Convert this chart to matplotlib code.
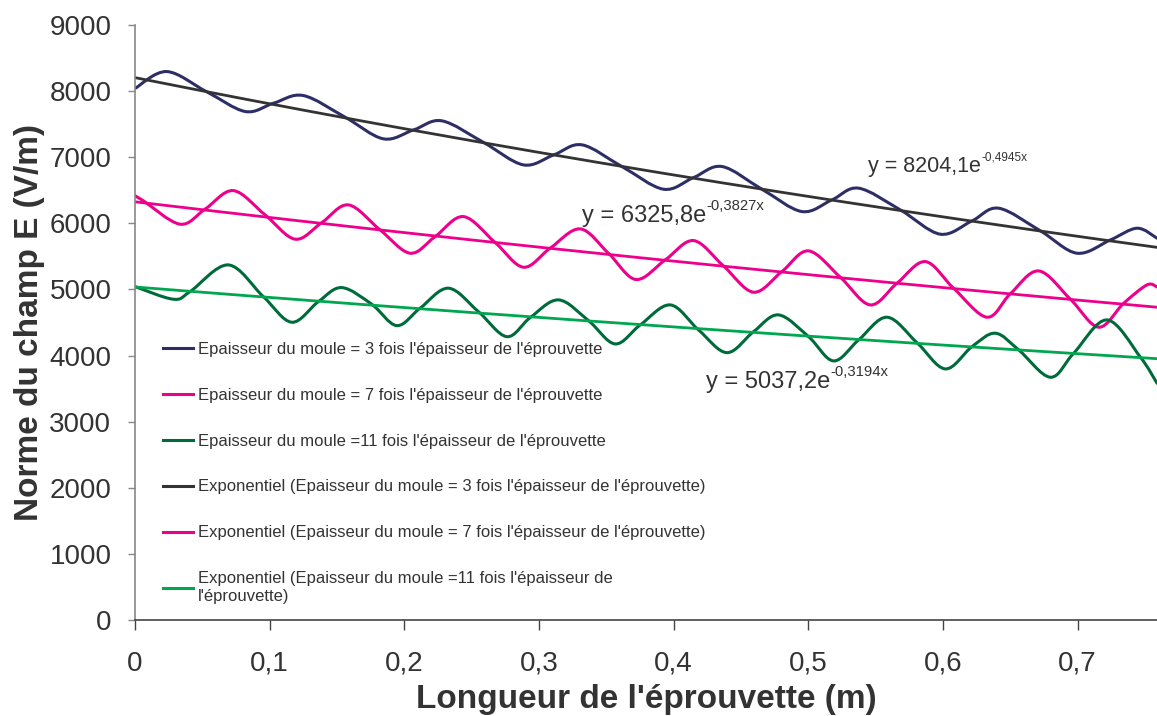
import numpy as np
import matplotlib
matplotlib.use("Agg")
import matplotlib.pyplot as plt
from matplotlib.path import Path
from matplotlib.patches import PathPatch
from matplotlib.lines import Line2D
from matplotlib.ticker import FuncFormatter, MultipleLocator

plt.rcParams['font.family'] = ['Liberation Sans', 'DejaVu Sans']

# Norme du champ le long de l'éprouvette, moule = 3 fois l'épaisseur
x_3 = [0.0, 0.0235, 0.053, 0.082, 0.103, 0.125, 0.156, 0.1845, 0.207, 0.228,
       0.259, 0.2885, 0.311, 0.332, 0.3616, 0.3925, 0.4148, 0.436, 0.4656,
       0.4953, 0.5176, 0.5374, 0.5684, 0.598, 0.6216, 0.6414, 0.6724, 0.6996,
       0.7244, 0.7442, 0.759]
e_3 = [8040, 8296, 7993, 7691, 7818, 7933, 7606, 7278, 7414, 7550,
       7222, 6884, 7035, 7187, 6859, 6516, 6692, 6859, 6516,
       6178, 6355, 6532, 6203, 5836, 6037, 6229, 5886, 5548,
       5749, 5926, 5775]

# moule = 7 fois l'épaisseur
x_7 = [0.0, 0.006, 0.0334, 0.052, 0.073, 0.0966, 0.119, 0.1387, 0.1585, 0.182,
       0.2043, 0.2229, 0.2439, 0.2675, 0.2885, 0.3083, 0.3306, 0.3516, 0.372,
       0.3938, 0.4148, 0.437, 0.4594, 0.4804, 0.5002, 0.5238, 0.546, 0.5659,
       0.5869, 0.6079, 0.6327, 0.65, 0.6711, 0.6947, 0.7157, 0.7343, 0.7516,
       0.759]
e_7 = [6415, 6344, 5987, 6214, 6495, 6128, 5760, 6011, 6279, 5901,
       5548, 5799, 6102, 5709, 5336, 5624, 5916, 5548, 5150,
       5447, 5739, 5356, 4958, 5270, 5583, 5185, 4766, 5094,
       5421, 5019, 4580, 4932, 5280, 4852, 4429, 4792, 5069,
       5038]

# moule = 11 fois l'épaisseur
x_11 = [0.0, 0.0285, 0.0409, 0.0693, 0.0953, 0.1164, 0.1362, 0.1535, 0.1758,
        0.1944, 0.2117, 0.2328, 0.255, 0.2761, 0.2935, 0.3145, 0.3368, 0.3566,
        0.3752, 0.3975, 0.4185, 0.4396, 0.4594, 0.4779, 0.5002, 0.5188, 0.5374,
        0.5585, 0.5807, 0.6018, 0.6216, 0.6389, 0.6563, 0.6798, 0.6971, 0.7219,
        0.7467, 0.759]
e_11 = [5043, 4852, 4967, 5371, 4891, 4504, 4816, 5028, 4776,
        4453, 4716, 5019, 4665, 4286, 4574, 4842, 4528, 4176,
        4463, 4766, 4388, 4044, 4362, 4615, 4286, 3919, 4236,
        4580, 4196, 3798, 4135, 4338, 4085, 3672, 4035, 4539,
        3975, 3581]

# courbes de tendance exponentielles y = a*exp(b*x)
fit_a = [8204.1, 6325.8, 5037.2]
fit_b = [-0.4945, -0.3827, -0.3194]
fit_text = ["8204,1", "6325,8", "5037,2"]
fit_exp = ["-0,4945x", "-0,3827x", "-0,3194x"]

labels = [
    "Epaisseur du moule = 3 fois l'épaisseur de l'éprouvette",
    "Epaisseur du moule = 7 fois l'épaisseur de l'éprouvette",
    "Epaisseur du moule =11 fois l'épaisseur de l'éprouvette",
    "Exponentiel (Epaisseur du moule = 3 fois l'épaisseur de l'éprouvette)",
    "Exponentiel (Epaisseur du moule = 7 fois l'épaisseur de l'éprouvette)",
    "Exponentiel (Epaisseur du moule =11 fois l'épaisseur de\nl'éprouvette)",
]


def smooth_path(xs, ys, tension=6.0):
    # courbe lissée type Catmull-Rom, passe par tous les points mesurés
    xs = np.asarray(xs, float)
    ys = np.asarray(ys, float)
    pts = np.column_stack([xs, ys])
    verts = [pts[0]]
    codes = [Path.MOVETO]
    n = len(pts)
    for i in range(n - 1):
        p0 = pts[max(i - 1, 0)]
        p1 = pts[i]
        p2 = pts[i + 1]
        p3 = pts[min(i + 2, n - 1)]
        c1 = p1 + (p2 - p0) / tension
        c2 = p2 - (p3 - p1) / tension
        verts += [c1, c2, p2]
        codes += [Path.CURVE4] * 3
    return Path(verts, codes)


curve_colors = ['#2e2e66', '#ec008c', '#006b3a']
fit_colors = ['#333333', '#ec008c', '#00a650']
text_color = '#333333'

fig = plt.figure(figsize=(11.57, 7.16), dpi=100)
ax = fig.add_axes([135 / 1157, 96 / 716, 1 - 135 / 1157, 595 / 716])

for xs, ys, col in zip([x_3, x_7, x_11], [e_3, e_7, e_11], curve_colors):
    ax.add_patch(PathPatch(smooth_path(xs, ys), fill=False, edgecolor=col,
                           lw=2.2, capstyle='round', joinstyle='round'))

xf = np.linspace(0, 0.76, 200)
for a, b, col in zip(fit_a, fit_b, fit_colors):
    ax.plot(xf, a * np.exp(b * xf), color=col, lw=2.0)

# équations des tendances
eq_pos = [(0.5446, 6780), (0.332, 6027), (0.4242, 3510)]
eq_size = [15.5, 17, 17]
sup_size = [8.5, 10.7, 10.7]
for (xe, ye), coef, ex, fs, ss in zip(eq_pos, fit_text, fit_exp, eq_size, sup_size):
    t = ax.text(xe, ye, "y = " + coef + "e", fontsize=fs, color=text_color,
                ha='left', va='baseline')
    ax.annotate(ex, xy=(1, 1), xycoords=t, xytext=(0.3, ss * 0.4),
                textcoords='offset points', fontsize=ss, color=text_color,
                ha='left', va='top')

ax.set_xlim(0, 0.759)
ax.set_ylim(0, 9000)
ax.xaxis.set_major_locator(MultipleLocator(0.1))
ax.yaxis.set_major_locator(MultipleLocator(1000))
ax.xaxis.set_major_formatter(FuncFormatter(
    lambda v, p: ('%g' % round(v, 2)).replace('.', ',')))
ax.yaxis.set_major_formatter(FuncFormatter(lambda v, p: '%d' % v))

for side in ['top', 'right']:
    ax.spines[side].set_visible(False)
ax.spines['left'].set_color('#888888')
ax.spines['bottom'].set_color('#444444')
ax.spines['left'].set_linewidth(1.2)
ax.spines['bottom'].set_linewidth(1.2)
ax.tick_params(axis='x', direction='out', length=7, width=1, color='#444444',
               pad=15, labelsize=20, labelcolor=text_color)
ax.tick_params(axis='y', direction='out', length=5, width=1, color='#888888',
               pad=12, labelsize=20, labelcolor=text_color)

ax.set_xlabel("Longueur de l'éprouvette (m)", fontsize=24, fontweight='bold',
              color=text_color, va='center')
ax.xaxis.set_label_coords(0.5, -0.134)
ax.set_ylabel("Norme du champ E (V/m)", fontsize=24, fontweight='bold',
              color=text_color, va='center')
ax.yaxis.set_label_coords(-0.103, 0.5)

handles = [Line2D([], [], color=c, lw=2.2) for c in curve_colors + fit_colors]
leg = ax.legend(handles, labels, loc='upper left', frameon=False,
                bbox_to_anchor=(163 / 1157, 1 - 342 / 716),
                bbox_transform=fig.transFigure, borderpad=0, borderaxespad=0,
                fontsize=12, handlelength=1.8, handletextpad=0.3,
                labelspacing=1.85)
for txt in leg.get_texts():
    txt.set_color(text_color)

fig.savefig('out.png', dpi=100)
